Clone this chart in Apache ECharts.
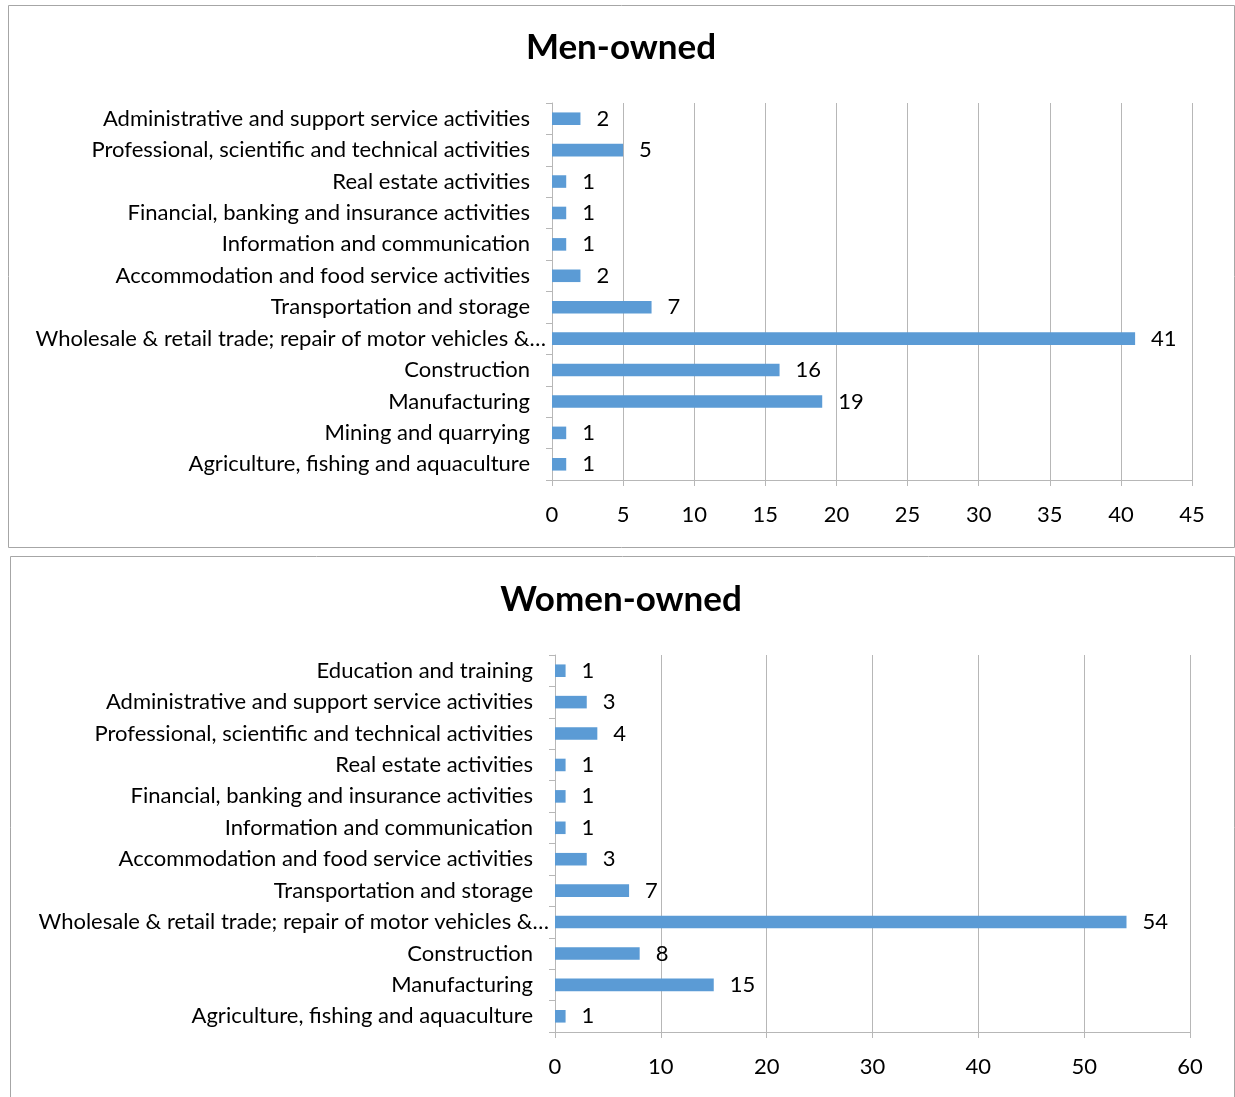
<!DOCTYPE html>
<html><head><meta charset="utf-8">
<script src="https://cdn.jsdelivr.net/npm/echarts@6/dist/echarts.min.js"></script>
<style>html,body{margin:0;padding:0;background:#fff}#c{width:1235px;height:1097px}</style>
</head><body><div id="c"></div>
<script>
const menCategories = [
  "Agriculture, fishing and aquaculture",
  "Mining and quarrying",
  "Manufacturing",
  "Construction",
  "Wholesale & retail trade; repair of motor vehicles &…",
  "Transportation and storage",
  "Accommodation and food service activities",
  "Information and communication",
  "Financial, banking and insurance activities",
  "Real estate activities",
  "Professional, scientific and technical activities",
  "Administrative and support service activities"
];
const menValues = [1, 1, 19, 16, 41, 7, 2, 1, 1, 1, 5, 2];

const womenCategories = [
  "Agriculture, fishing and aquaculture",
  "Manufacturing",
  "Construction",
  "Wholesale & retail trade; repair of motor vehicles &…",
  "Transportation and storage",
  "Accommodation and food service activities",
  "Information and communication",
  "Financial, banking and insurance activities",
  "Real estate activities",
  "Professional, scientific and technical activities",
  "Administrative and support service activities",
  "Education and training"
];
const womenValues = [1, 15, 8, 54, 7, 3, 1, 1, 1, 4, 3, 1];

const menTitle = "Men-owned";
const womenTitle = "Women-owned";

const FONT = "Lato, 'Open Sans', sans-serif";
const BAR = "#5B9BD5";
const GRID = "#B7B7B7";

function xAxis(gridIndex, max, interval) {
  return {
    type: 'value', gridIndex, min: 0, max, interval,
    axisLine: {show: true, lineStyle: {color: GRID, width: 1}},
    axisTick: {show: true, length: 6, lineStyle: {color: GRID}},
    axisLabel: {color: '#000', fontSize: 22, fontFamily: FONT, margin: 24},
    splitLine: {show: true, lineStyle: {color: GRID, width: 1}}
  };
}
function yAxis(gridIndex, cats) {
  return {
    type: 'category', gridIndex, data: cats,
    axisLine: {show: true, lineStyle: {color: GRID}},
    axisTick: {show: true, length: 6, lineStyle: {color: GRID}},
    axisLabel: {color: '#000', fontSize: 22, fontFamily: FONT, margin: 22,
      formatter: function (v) { return v.indexOf('…') >= 0 ? '{w|' + v + '}' : v; },
      rich: {w: {fontSize: 22, fontFamily: FONT, color: '#000', padding: [0, -16, 0, 0]}}},
    splitLine: {show: false}
  };
}
function series(idx, vals) {
  return {
    type: 'bar', xAxisIndex: idx, yAxisIndex: idx, data: vals,
    barWidth: '40%',
    itemStyle: {color: BAR},
    label: {show: true, position: 'right', distance: 16, color: '#000', fontSize: 22, fontFamily: FONT},
    silent: true, animation: false
  };
}

const chart = echarts.init(document.getElementById('c'), null, {renderer: 'canvas'});
chart.setOption({
  animation: false,
  backgroundColor: '#fff',
  graphic: [
    {type: 'rect', shape: {x: 8.5, y: 5.5, width: 1226, height: 542}, style: {fill: null, stroke: '#A6A6A6', lineWidth: 1}, z: -1},
    {type: 'rect', shape: {x: 10.5, y: 556.5, width: 1224, height: 560}, style: {fill: null, stroke: '#A6A6A6', lineWidth: 1}, z: -1},
    {type: 'text', x: 621, y: 48, style: {text: menTitle, textAlign: 'center', textVerticalAlign: 'middle',
      font: "bold 35px Lato, 'Open Sans', sans-serif", fill: '#000'}},
    {type: 'text', x: 621, y: 600, style: {text: womenTitle, textAlign: 'center', textVerticalAlign: 'middle',
      font: "bold 35px Lato, 'Open Sans', sans-serif", fill: '#000'}}
  ],
  grid: [
    {left: 552, right: 1235 - 1192, top: 103, height: 377},
    {left: 555, right: 1235 - 1190, top: 655, height: 377}
  ],
  xAxis: [xAxis(0, 45, 5), xAxis(1, 60, 10)],
  yAxis: [yAxis(0, menCategories), yAxis(1, womenCategories)],
  series: [series(0, menValues), series(1, womenValues)]
});
</script></body></html>
